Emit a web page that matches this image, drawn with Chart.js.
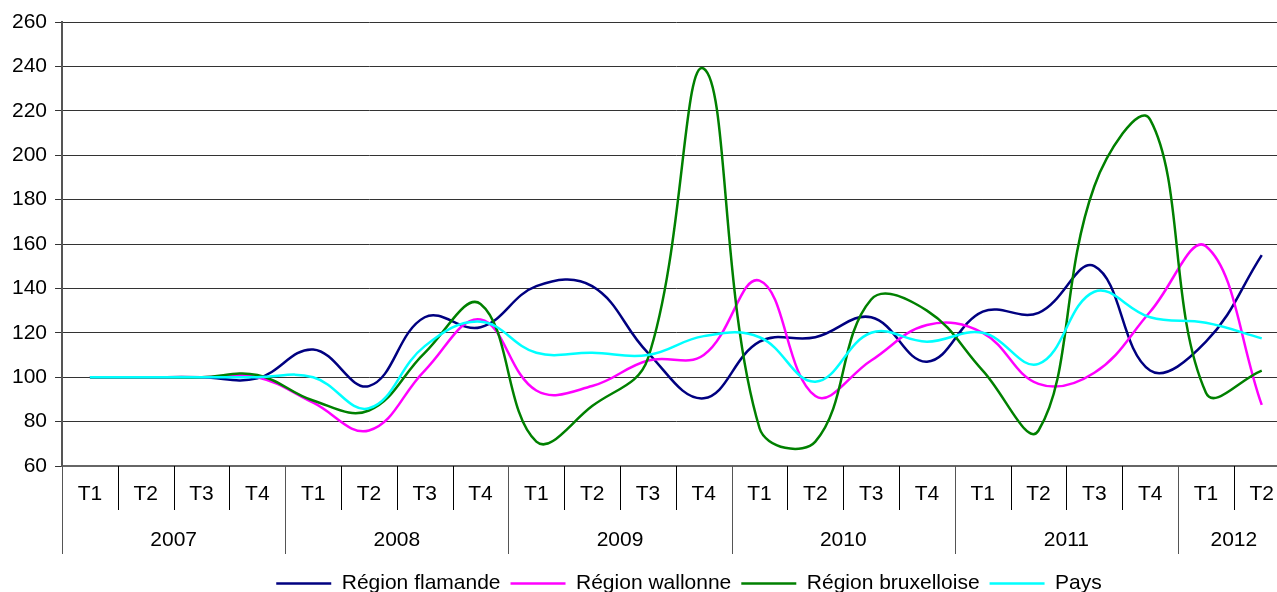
<!DOCTYPE html>
<html>
<head>
<meta charset="utf-8">
<script src="https://cdn.jsdelivr.net/npm/chart.js@4/dist/chart.umd.min.js"></script>
<style>
  html, body { margin: 0; padding: 0; background: #fff; overflow: hidden; }
  #wrap { width: 1290px; height: 592px; position: relative; }
</style>
</head>
<body>
<div id="wrap"><canvas id="chart"></canvas></div>
<script>
// quarters and the years they belong to
const quarters = ['T1','T2','T3','T4', 'T1','T2','T3','T4', 'T1','T2','T3','T4',
                  'T1','T2','T3','T4', 'T1','T2','T3','T4', 'T1','T2'];
const years = ['2007', '2008', '2009', '2010', '2011', '2012'];
const quartersPerYear = [4, 4, 4, 4, 4, 2];

// index values (2007 T1 = 100)
const flamande    = [100, 100, 100, 99.5, 112.5, 96, 127, 122.5, 141, 141, 111, 90.5, 116, 118, 127, 107, 129.5, 129, 150, 103, 116, 155];
const wallonne    = [100, 100, 100, 100, 88.5, 76, 103, 126, 94, 96, 107.5, 110, 143.5, 91.5, 107.5, 123.5, 120, 97, 102, 129.5, 159, 87.5];
const bruxelloise = [100, 100, 100, 101, 89.5, 85, 111, 133, 71, 87, 108.5, 239, 77, 71, 135, 130, 103, 76, 186, 216, 93, 103];
const pays        = [100, 100, 100, 100, 100, 86, 114, 125, 111, 111, 110, 118.5, 118, 98, 120, 116, 120, 106, 138.5, 127, 124.5, 117.5];

const yTicks = [60, 80, 100, 120, 140, 160, 180, 200, 220, 240, 260];

const FONT = "'Liberation Sans', Arial, sans-serif";
Chart.defaults.font.family = FONT;
Chart.defaults.font.size = 21;
Chart.defaults.color = '#000';

// year row + separators under the quarter labels
const yearRow = {
  id: 'yearRow',
  afterLayout(chart) {
    // legend sits a bit right of centre and lower in the original
    chart.legend.left += 42;
    chart.legend.right += 42;
    chart.legend.top += 12;
    chart.legend.bottom += 12;
  },
  afterDraw(chart) {
    const ctx = chart.ctx;
    const x = chart.scales.x;
    const bottom = chart.chartArea.bottom;
    const half = (x.getPixelForValue(1) - x.getPixelForValue(0)) / 2;
    ctx.save();
    ctx.strokeStyle = '#000';
    ctx.lineWidth = 1;
    // small separators between quarters
    for (let i = 1; i < quarters.length; i++) {
      const px = Math.round(x.getPixelForValue(i) - half) + 0.5;
      ctx.beginPath();
      ctx.moveTo(px, bottom);
      ctx.lineTo(px, bottom + 44);
      ctx.stroke();
    }
    // year separators and labels
    let idx = 0;
    ctx.fillStyle = '#000';
    ctx.font = '21px ' + FONT;
    ctx.textAlign = 'center';
    ctx.textBaseline = 'middle';
    for (let k = 0; k <= years.length; k++) {
      const px = Math.round(x.getPixelForValue(idx) - half) + 0.5;
      ctx.strokeStyle = '#555';
      ctx.beginPath();
      ctx.moveTo(px, bottom);
      ctx.lineTo(px, bottom + 88);
      ctx.stroke();
      if (k < years.length) {
        const n = quartersPerYear[k];
        const cx = (x.getPixelForValue(idx) + x.getPixelForValue(idx + n - 1)) / 2;
        ctx.fillText(years[k], cx, bottom + 74);
        idx += n;
      }
    }
    ctx.restore();
  }
};

const ctx = document.getElementById('chart').getContext('2d');
new Chart(ctx, {
  type: 'line',
  data: {
    labels: quarters,
    datasets: [
      { label: 'Région flamande', data: flamande, borderColor: '#000080', borderWidth: 2.5, order: 3 },
      { label: 'Région wallonne', data: wallonne, borderColor: '#FF00FF', borderWidth: 2.5, order: 2 },
      { label: 'Région bruxelloise', data: bruxelloise, borderColor: '#008000', borderWidth: 2.5, order: 1 },
      { label: 'Pays', data: pays, borderColor: '#00FFFF', borderWidth: 2.5, order: 0 }
    ]
  },
  options: {
    responsive: true,
    maintainAspectRatio: false,
    animation: false,
    devicePixelRatio: 1,
    layout: { padding: { left: 4, right: 0, top: 22, bottom: 0 } },
    elements: {
      line: { tension: 0.4, fill: false },
      point: { radius: 0, hoverRadius: 0 }
    },
    plugins: {
      tooltip: { enabled: false },
      legend: {
        position: 'bottom',
        labels: {
          usePointStyle: true,
          pointStyle: 'line',
          pointStyleWidth: 55,
          padding: 10,
          font: { size: 21 },
          sort: (a, b) => a.datasetIndex - b.datasetIndex
        }
      }
    },
    scales: {
      x: {
        offset: true,
        grid: { display: false, drawTicks: false },
        border: { display: true, color: '#666', width: 2 },
        ticks: { padding: 16, autoSkip: false, maxRotation: 0 },
        afterFit(scale) { scale.height = 85; }
      },
      y: {
        min: 60,
        max: 260,
        afterBuildTicks(scale) { scale.ticks = yTicks.map(v => ({ value: v })); },
        grid: { color: '#333', lineWidth: 1, tickLength: 7 },
        border: { display: true, color: '#555', width: 2 },
        ticks: { padding: 8 }
      }
    }
  },
  plugins: [yearRow]
});
</script>
</body>
</html>
